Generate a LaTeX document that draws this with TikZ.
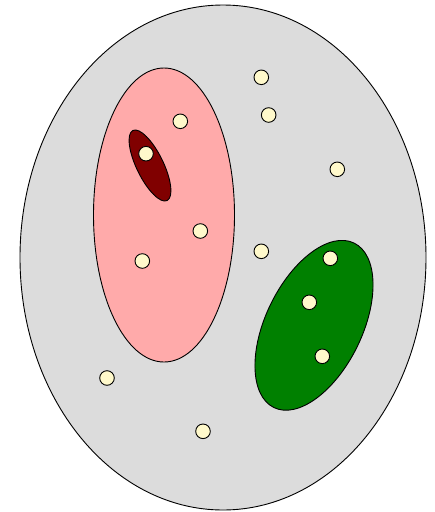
\documentclass[tikz,border=0pt]{standalone}
\usetikzlibrary{shapes.geometric}
\definecolor{outerfill}{HTML}{DCDCDC}
\definecolor{pinkfill}{HTML}{FFAAAA}
\definecolor{darkredfill}{HTML}{800000}
\definecolor{greenfill}{HTML}{008000}
\definecolor{dotfill}{HTML}{FFF9CB}
\begin{document}
\begin{tikzpicture}[x=1pt,y=-1pt,line width=0.9pt,
  region/.style={draw=black},
  dot/.style={circle,draw=black,fill=dotfill,minimum size=14.6pt,inner sep=0pt,line width=0.9pt}]
\useasboundingbox (0,0) rectangle (435,512);
\draw[region,fill=outerfill] (223,257.5) ellipse [x radius=203, y radius=252.5];
\draw[region,fill=pinkfill] (164,215) ellipse [x radius=70.5, y radius=147];
\draw[region,fill=darkredfill,rotate around={26:(150,165.5)}] (150,165.5) ellipse [x radius=13.4, y radius=39];
\draw[region,fill=greenfill,rotate around={-26:(314,325.3)}] (314,325.3) ellipse [x radius=48.2, y radius=91.5];
\node[dot] (d1) at (261.3,77.3) {};
\node[dot] (d2) at (180.3,121.3) {};
\node[dot] (d3) at (268.7,115) {};
\node[dot] (d4) at (146,153.7) {};
\node[dot] (d5) at (337.3,169.3) {};
\node[dot] (d6) at (200.3,231) {};
\node[dot] (d7) at (261.3,251.3) {};
\node[dot] (d8) at (142.3,261) {};
\node[dot] (d9) at (330.3,258.3) {};
\node[dot] (d10) at (309.3,302.3) {};
\node[dot] (d11) at (322.3,356.3) {};
\node[dot] (d12) at (107,378) {};
\node[dot] (d13) at (203,431.3) {};
\end{tikzpicture}
\end{document}
